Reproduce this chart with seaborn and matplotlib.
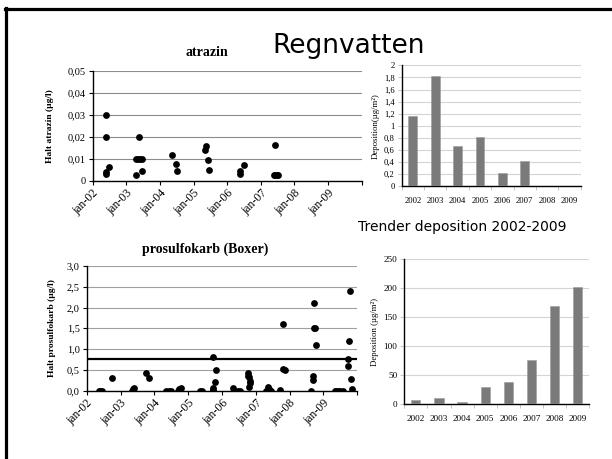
import numpy as np
import pandas as pd
import matplotlib
matplotlib.use("Agg")
import matplotlib.pyplot as plt
import seaborn as sns
from matplotlib.lines import Line2D
from matplotlib.ticker import FixedLocator, FixedFormatter

# ---------------- data ----------------
atr_year = [2002.40, 2002.39, 2002.47, 2002.41, 2002.41,
            2003.30, 2003.39, 2003.30, 2003.36, 2003.42, 2003.47, 2003.46,
            2004.35, 2004.47, 2004.50,
            2005.34, 2005.37, 2005.42, 2005.46,
            2006.37, 2006.38, 2006.51,
            2007.43, 2007.38, 2007.43, 2007.48, 2007.52]
atr_val = [0.030, 0.020, 0.006, 0.0038, 0.003,
           0.0027, 0.020, 0.010, 0.010, 0.010, 0.010, 0.0042,
           0.0118, 0.0076, 0.0042,
           0.0139, 0.0159, 0.0094, 0.0049,
           0.0028, 0.0042, 0.0071,
           0.016, 0.0023, 0.0023, 0.0023, 0.0023]

pro_year = [2002.35, 2002.40, 2002.45, 2002.76,
            2003.33, 2003.36, 2003.39, 2003.75, 2003.84,
            2004.34, 2004.42, 2004.50, 2004.70, 2004.74, 2004.78,
            2005.34, 2005.41, 2005.72, 2005.81, 2005.79, 2005.72, 2005.74,
            2006.32, 2006.38, 2006.46, 2006.52, 2006.78, 2006.77, 2006.81, 2006.82, 2006.82, 2006.80,
            2007.31, 2007.36, 2007.40, 2007.46, 2007.70, 2007.79, 2007.80, 2007.85,
            2008.64, 2008.68, 2008.70, 2008.72, 2008.72, 2008.75, 2008.77,
            2009.33, 2009.38, 2009.43, 2009.50, 2009.57, 2009.79, 2009.74, 2009.72, 2009.72, 2009.82, 2009.83]
pro_val = [0.0, 0.0, 0.0, 0.30,
           0.0, 0.03, 0.06, 0.41, 0.30,
           0.0, 0.0, 0.0, 0.0, 0.03, 0.06,
           0.0, 0.0, 0.80, 0.50, 0.20, 0.02, 0.06,
           0.05, 0.0, 0.0, 0.0, 0.41, 0.36, 0.32, 0.24, 0.18, 0.08,
           0.0, 0.08, 0.03, 0.0, 0.02, 1.60, 0.53, 0.50,
           0.0, 0.36, 0.26, 2.10, 1.50, 1.50, 1.10,
           0.0, 0.0, 0.0, 0.0, 0.0, 2.40, 1.20, 0.75, 0.58, 0.28, 0.03]
pro_limit = 0.76

date_ticks = [2002, 2003, 2004, 2005, 2006, 2007, 2008, 2009, 2010]
date_labels = ["jan-02", "jan-03", "jan-04", "jan-05", "jan-06", "jan-07", "jan-08", "jan-09", ""]

bar_years = ["2002", "2003", "2004", "2005", "2006", "2007", "2008", "2009"]
dep_atrazin = [1.17, 1.83, 0.66, 0.81, 0.215, 0.42, 0.0, 0.0]
dep_prosulfokarb = [7, 10.4, 3, 29.4, 37.4, 76.6, 169.4, 202.2]

atr_yticks = [0, 0.01, 0.02, 0.03, 0.04, 0.05]
atr_ylabels = ["0", "0,01", "0,02", "0,03", "0,04", "0,05"]
pro_yticks = [0, 0.5, 1.0, 1.5, 2.0, 2.5, 3.0]
pro_ylabels = ["0,0", "0,5", "1,0", "1,5", "2,0", "2,5", "3,0"]
bar1_yticks = [0, 0.2, 0.4, 0.6, 0.8, 1.0, 1.2, 1.4, 1.6, 1.8, 2.0]
bar1_ylabels = ["0", "0,2", "0,4", "0,6", "0,8", "1", "1,2", "1,4", "1,6", "1,8", "2"]
bar2_yticks = [0, 50, 100, 150, 200, 250]
bar2_ylabels = ["0", "50", "100", "150", "200", "250"]

# ---------------- figure ----------------
W, H = 612, 459
fig = plt.figure(figsize=(W / 100, H / 100), dpi=100)
fig.patch.set_facecolor("white")
SERIF = "Liberation Serif"


def box(l, r, t, b):
    return [l / W, 1 - b / H, (r - l) / W, (b - t) / H]


def style_axes(ax, grid_color):
    for s in ["top", "right"]:
        ax.spines[s].set_visible(False)
    ax.spines["left"].set_color("black")
    ax.spines["bottom"].set_color("black")
    ax.spines["left"].set_linewidth(1.0)
    ax.spines["bottom"].set_linewidth(1.0)
    ax.set_facecolor("white")
    ax.grid(False)
    ax.set_axisbelow(True)
    ax.yaxis.grid(True, color=grid_color, linewidth=0.8)


def scatter_panel(ax, xs, ys, yticks, ylabels, ylabel, gridc, lpad):
    sns.scatterplot(x=xs, y=ys, ax=ax, color="black", s=24, linewidth=0, zorder=3)
    ax.set_xlim(2002, 2010)
    ax.set_ylim(yticks[0], yticks[-1])
    style_axes(ax, gridc)
    ax.xaxis.set_major_locator(FixedLocator(date_ticks))
    ax.xaxis.set_major_formatter(FixedFormatter(date_labels))
    ax.set_yticks(yticks)
    ax.set_yticklabels(ylabels, fontfamily=SERIF, fontsize=7.5)
    for lab in ax.get_xticklabels():
        lab.set_rotation(45)
        lab.set_ha("right")
        lab.set_va("top")
        lab.set_rotation_mode("anchor")
        lab.set_fontfamily(SERIF)
        lab.set_fontsize(8.5)
    ax.tick_params(axis="both", direction="out", length=3, width=0.8, color="black", pad=2)
    ax.set_ylabel(ylabel, fontfamily=SERIF, fontsize=6.8, fontweight="bold", labelpad=lpad)
    ax.set_xlabel("")


# atrazin scatter
ax1 = fig.add_axes(box(92.7, 361.7, 71, 180.5))
scatter_panel(ax1, atr_year, atr_val, atr_yticks, atr_ylabels,
              "Halt atrazin (µg/l)", "#8c8c8c", 10)
fig.text(207 / W, 1 - 53 / H, "atrazin", family=SERIF, fontsize=10,
         fontweight="bold", ha="center", va="center")

# prosulfokarb scatter
ax2 = fig.add_axes(box(86.7, 357.3, 266, 390.5))
scatter_panel(ax2, pro_year, pro_val, pro_yticks, pro_ylabels,
              "Halt prosulfokarb (µg/l)", "#a0a0a0", 8)
fig.text(205 / W, 1 - 249 / H, "prosulfokarb (Boxer)", family=SERIF, fontsize=10,
         fontweight="bold", ha="center", va="center")
ax2.axhline(pro_limit, color="black", linewidth=1.6, zorder=2)


def bar_panel(ax, vals, yticks, ylabels, ylabel, fs):
    sns.barplot(x=bar_years, y=vals, ax=ax, color="#7a7a7a", saturation=1,
                width=0.4, edgecolor="#9a9a9a", linewidth=0.4, zorder=3)
    ax.set_xlim(-0.5, 7.5)
    ax.set_ylim(yticks[0], yticks[-1])
    style_axes(ax, "#d4d4d4")
    ax.set_yticks(yticks)
    ax.set_yticklabels(ylabels, fontfamily=SERIF, fontsize=fs)
    ax.set_xticks(range(8))
    ax.set_xticklabels(bar_years, fontfamily=SERIF, fontsize=fs)
    ax.tick_params(axis="x", length=0, pad=8)
    ax.tick_params(axis="y", length=3, width=0.6, color="#bbbbbb", pad=2)
    ax.set_xticks(np.arange(-0.5, 8.0, 1.0), minor=True)
    ax.tick_params(axis="x", which="minor", length=3, width=0.6, color="#bbbbbb")
    ax.set_ylabel(ylabel, fontfamily=SERIF, fontsize=6.3, labelpad=3)
    ax.set_xlabel("")


ax3 = fig.add_axes(box(401.7, 580.7, 65.3, 186.3))
bar_panel(ax3, dep_atrazin, bar1_yticks, bar1_ylabels, "Deposition(µg/m²)", 6.2)

ax4 = fig.add_axes(box(404.3, 589.3, 259.3, 404))
bar_panel(ax4, dep_prosulfokarb, bar2_yticks, bar2_ylabels, "Deposition (µg/m²)", 6.6)

# headings
fig.text(349 / W, 1 - 46 / H, "Regnvatten", family="DejaVu Sans", fontsize=19,
         ha="center", va="center")
fig.text(462 / W, 1 - 227 / H, "Trender deposition 2002-2009", family="DejaVu Sans",
         fontsize=10, ha="center", va="center")

# slide frame (top and left)
fig.add_artist(Line2D([5 / W, 1.0], [1 - 9 / H, 1 - 9 / H], transform=fig.transFigure,
                      color="black", linewidth=2.3))
fig.add_artist(Line2D([6.3 / W, 6.3 / W], [1 - 8 / H, 0.0], transform=fig.transFigure,
                      color="black", linewidth=2.3))

fig.savefig("out.png", dpi=100, facecolor="white")
